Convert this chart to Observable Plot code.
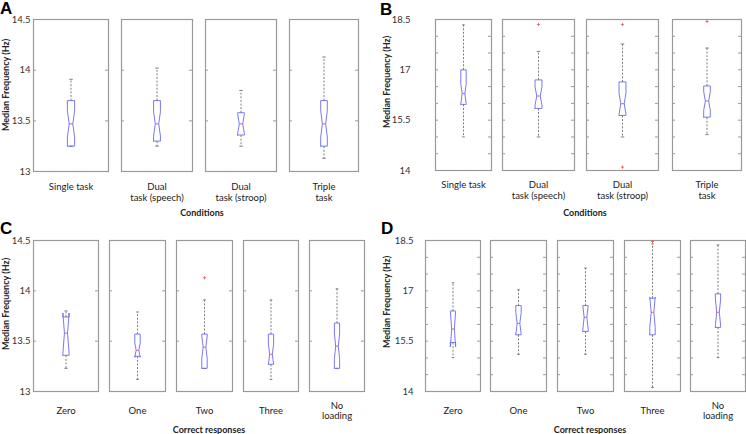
<!DOCTYPE html>
<html><head><meta charset="utf-8">
<script src="https://cdn.jsdelivr.net/npm/d3@7"></script>
<script src="https://cdn.jsdelivr.net/npm/@observablehq/plot@0.6"></script>
<style>
body{margin:0;background:#fff;}
#fig{position:relative;width:746px;height:434px;overflow:hidden;background:#fff}
#fig svg.sub{position:absolute;overflow:visible;background:transparent}
#over{position:absolute;left:0;top:0;pointer-events:none}
</style></head><body><div id="fig"></div>
<script>
// ---------- data ----------
const conditions = ["Single task", "Dual\ntask (speech)", "Dual\ntask (stroop)", "Triple\ntask"];
const responses = ["Zero", "One", "Two", "Three", "No\nloading"];

// Panel A (conditions, 13–14.5 Hz)
const lowA    = [13.25, 13.25, 13.25, 13.13];
const q1A     = [13.25, 13.30, 13.36, 13.25];
const medA    = [13.47, 13.47, 13.47, 13.47];
const q3A     = [13.70, 13.70, 13.58, 13.70];
const highA   = [13.91, 14.02, 13.80, 14.13];
const notchA  = [0.13, 0.12, 0.10, 0.13];
const outA    = [[], [], [], []];

// Panel B (conditions, 14–18.5 Hz)
const lowB    = [15.00, 15.00, 15.00, 15.07];
const q1B     = [15.97, 15.85, 15.64, 15.59];
const medB    = [16.29, 16.22, 15.99, 16.07];
const q3B     = [17.00, 16.70, 16.64, 16.52];
const highB   = [18.34, 17.55, 17.77, 17.65];
const notchB  = [0.30, 0.27, 0.32, 0.28];
const outB    = [[], [18.35], [18.35, 14.10], [18.44]];

// Panel C (correct responses, 13–14.5 Hz)
const lowC    = [13.23, 13.12, 13.23, 13.12, 13.23];
const q1C     = [13.36, 13.35, 13.23, 13.27, 13.23];
const medC    = [13.58, 13.41, 13.44, 13.37, 13.45];
const q3C     = [13.74, 13.57, 13.57, 13.57, 13.68];
const highC   = [13.80, 13.79, 13.91, 13.91, 14.02];
const notchC  = [0.20, 0.07, 0.11, 0.10, 0.13];
const outC    = [[], [], [14.13], [], []];

// Panel D (correct responses, 14–18.5 Hz)
const lowD    = [15.01, 15.11, 15.11, 14.12, 15.01];
const q1D     = [15.46, 15.69, 15.79, 15.69, 15.91];
const medD    = [15.86, 16.03, 16.21, 16.36, 16.36];
const q3D     = [16.40, 16.56, 16.56, 16.78, 16.91];
const highD   = [17.24, 17.03, 17.68, 18.40, 18.37];
const notchD  = [0.53, 0.33, 0.35, 0.45, 0.40];
const outD    = [[], [], [], [18.47], []];

const yTicksLow  = [13, 13.5, 14, 14.5];
const yLabelsLow = [13, 13.5, 14, 14.5];
const yTicksHigh  = [14, 14.5, 15, 15.5, 16, 16.5, 17, 17.5, 18, 18.5];
const yLabelsHigh = [14, 15.5, 17, 18.5];

// ---------- layout ----------
const panels = [
  {letter:"A", lx:0, ly:14, cats:conditions, lo:lowA, q1:q1A, med:medA, q3:q3A, hi:highA, notch:notchA, out:outA,
   domain:[13,14.5], ticks:yTicksLow, labels:yLabelsLow, pad:3,
   frames:[[33,108],[121,192],[205,276],[289,358]], top:19, bottom:171,
   ylx:5, yly:85, xlabel:"Conditions", xlx:202, xly:212, catDy:11, catAnchor:"top"},
  {letter:"B", lx:380, ly:15, cats:conditions, lo:lowB, q1:q1B, med:medB, q3:q3B, hi:highB, notch:notchB, out:outB,
   domain:[14,18.5], ticks:yTicksHigh, labels:yLabelsHigh, pad:25,
   frames:[[435,491],[502,574],[586,658],[672,741]], top:19, bottom:170,
   ylx:386, yly:82, xlabel:"Conditions", xlx:585, xly:212, catDy:10, catAnchor:"top"},
  {letter:"C", lx:0, ly:234, cats:responses, lo:lowC, q1:q1C, med:medC, q3:q3C, hi:highC, notch:notchC, out:outC,
   domain:[13,14.5], ticks:yTicksLow, labels:yLabelsLow, pad:3,
   frames:[[33,98],[109,165],[176,232],[243,298],[309,364]], top:240, bottom:391,
   ylx:5, yly:304, xlabel:"Correct responses", xlx:209, xly:429, catDy:19, catAnchor:"middle"},
  {letter:"D", lx:381, ly:234, cats:responses, lo:lowD, q1:q1D, med:medD, q3:q3D, hi:highD, notch:notchD, out:outD,
   domain:[14,18.5], ticks:yTicksHigh, labels:yLabelsHigh, pad:12,
   frames:[[425,480],[490,546],[557,613],[624,680],[690,745]], top:240, bottom:391,
   ylx:386, yly:302, xlabel:"Correct responses", xlx:590, xly:429, catDy:19, catAnchor:"middle"}
];

const FONT = "Lato, 'Open Sans', sans-serif";
const BOX = "#6a6af2", MED = "#d8508a", WHISK = "#707070", FRAME = "#9a9a9a";
const fig = document.getElementById("fig");

function subplot(p, i) {
  const [x0, x1] = p.frames[i];
  const w = x1 - x0, h = p.bottom - p.top;
  const c = 0.5, bw = 0.048, nw = bw / 2, cap = bw / 2;
  const s = {lo: p.lo[i], q1: p.q1[i], med: p.med[i], q3: p.q3[i], hi: p.hi[i]};
  const nLo = s.med - p.notch[i], nHi = s.med + p.notch[i];
  const poly = [[c-bw,s.q1],[c-bw,nLo],[c-nw,s.med],[c-bw,nHi],[c-bw,s.q3],
                [c+bw,s.q3],[c+bw,nHi],[c+nw,s.med],[c+bw,nLo],[c+bw,s.q1],[c-bw,s.q1]];
  const marks = [
    Plot.frame({stroke: FRAME, strokeWidth: 1.2}),
    Plot.tickY(p.ticks, {y: d => d, stroke: FRAME, insetRight: w - 3}),
    Plot.tickY(p.ticks, {y: d => d, stroke: FRAME, insetLeft: w - 3}),
    Plot.link([{y1: s.q3, y2: s.hi}, {y1: s.q1, y2: s.lo}],
      {x1: () => c, x2: () => c, y1: "y1", y2: "y2", stroke: WHISK, strokeWidth: 0.9, strokeDasharray: "2,1.6"}),
    Plot.link([s.hi, s.lo], {x1: () => c - cap, x2: () => c + cap, y1: d => d, y2: d => d, stroke: WHISK, strokeWidth: 0.9}),
    Plot.line(poly, {x: d => d[0], y: d => d[1], stroke: BOX, strokeWidth: 0.9, curve: "linear"}),
    Plot.link([s.med], {x1: () => c - nw, x2: () => c + nw, y1: d => d, y2: d => d, stroke: MED, strokeWidth: 0.9}),
    Plot.dot(p.out[i], {x: () => c, y: d => d, symbol: "plus", r: 1.1, stroke: "#f05050", strokeWidth: 0.8}),
    Plot.text([p.cats[i]], {text: d => d, frameAnchor: "bottom", dy: p.catDy, lineAnchor: p.catAnchor,
      lineHeight: 1.15, fontSize: 9.5, fill: "#222"})
  ];
  if (i === 0) marks.push(Plot.axisY({ticks: p.labels, tickSize: 0, tickPadding: p.pad, label: null,
      fontSize: 9.5, fill: "#333", tickFormat: d => String(d)}));
  const svg = Plot.plot({
    width: w, height: h, marginLeft: 0, marginRight: 0, marginTop: 0, marginBottom: 0,
    x: {domain: [0, 1], axis: null},
    y: {domain: p.domain, axis: null},
    style: {fontFamily: FONT, overflow: "visible", background: "transparent"},
    marks
  });
  svg.classList.add("sub");
  svg.style.left = x0 + "px";
  svg.style.top = p.top + "px";
  fig.appendChild(svg);
}

panels.forEach(p => p.frames.forEach((_, i) => subplot(p, i)));

// ---------- overlay text ----------
const over = d3.select(fig).append("svg").attr("id", "over").attr("width", 746).attr("height", 434)
  .style("font-family", FONT);
panels.forEach(p => {
  over.append("text").attr("x", p.lx).attr("y", p.ly).text(p.letter)
    .style("font-family", "'Liberation Sans', Arial, sans-serif").style("font-weight", "bold").style("font-size", "17px");
  over.append("text").attr("transform", `translate(${p.ylx},${p.yly}) rotate(-90)`)
    .attr("text-anchor", "middle").attr("dominant-baseline", "central")
    .style("font-weight", "bold").style("font-size", "9px").attr("fill", "#222").text("Median Frequency (Hz)");
  over.append("text").attr("x", p.xlx).attr("y", p.xly).attr("text-anchor", "middle").attr("dominant-baseline", "central")
    .style("font-weight", "bold").style("font-size", "9px").attr("fill", "#222").text(p.xlabel);
});
</script></body></html>
